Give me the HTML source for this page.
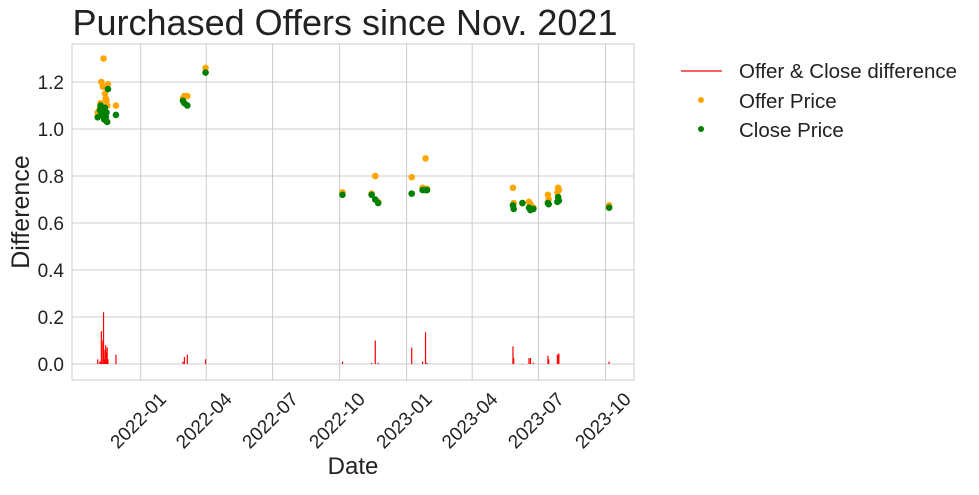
<!DOCTYPE html>
<html><head><meta charset="utf-8"><style>
body{margin:0;background:#fff;}
svg{font-family:"Liberation Sans","DejaVu Sans",sans-serif;}
</style></head><body>
<svg id="c" width="979" height="490">
<rect x="0" y="0" width="979" height="490" fill="#fff"/>
<g id="grid"></g>
<g id="bars"></g>
<g id="pts"></g>
<rect x="72" y="44" width="562" height="336" fill="none" stroke="#cccccc" stroke-width="1"/>
<g id="ticks"></g>
<text x="345" y="35" text-anchor="middle" font-size="36" fill="#222">Purchased Offers since Nov. 2021</text>
<text x="353" y="474" text-anchor="middle" font-size="24" fill="#222">Date</text>
<text transform="translate(29,212) rotate(-90)" text-anchor="middle" font-size="25" fill="#222">Difference</text>
<g>
<g><line x1="681" y1="71" x2="722" y2="71" stroke="red" stroke-width="1.2"/><text x="739" y="78" font-size="20.5" fill="#222">Offer &amp; Close difference</text></g>
<g><circle cx="701" cy="100" r="3" fill="orange"/><text x="739" y="108" font-size="20.5" fill="#222">Offer Price</text></g>
<g><circle cx="701" cy="129" r="3" fill="green"/><text x="739" y="137" font-size="20.5" fill="#222">Close Price</text></g>
</g>
</svg>
<script>
const dates=["2021-11-03","2021-11-06","2021-11-07","2021-11-08","2021-11-10","2021-11-11","2021-11-12","2021-11-13","2021-11-14","2021-11-15","2021-11-16","2021-11-17","2021-11-28","2022-02-28","2022-03-02","2022-03-06","2022-03-31","2022-10-05","2022-11-14","2022-11-19","2022-11-23","2023-01-08","2023-01-23","2023-01-27","2023-01-29","2023-05-27","2023-05-28","2023-06-09","2023-06-18","2023-06-20","2023-06-24","2023-07-14","2023-07-15","2023-07-27","2023-07-28","2023-07-29","2023-10-06"];
const offer=[1.07,1.09,1.11,1.20,1.18,1.30,1.06,1.15,1.13,1.12,1.10,1.19,1.10,1.13,1.14,1.14,1.26,0.73,0.725,0.80,0.69,0.795,0.75,0.875,0.745,0.75,0.685,0.685,0.69,0.68,0.665,0.72,0.70,0.73,0.75,0.74,0.675];
const close=[1.05,1.08,1.10,1.06,1.08,1.08,1.04,1.09,1.05,1.07,1.03,1.17,1.06,1.12,1.11,1.10,1.24,0.72,0.72,0.70,0.685,0.725,0.74,0.74,0.74,0.675,0.66,0.685,0.665,0.655,0.66,0.685,0.68,0.69,0.71,0.695,0.665];
const yTicks=[0.0,0.2,0.4,0.6,0.8,1.0,1.2];
const xTicks=["2022-01","2022-04","2022-07","2022-10","2023-01","2023-04","2023-07","2023-10"];
const NS="http://www.w3.org/2000/svg";
const base=Date.UTC(2022,0,1);
function xs(d){const p=d.split("-");const t=Date.UTC(+p[0],+p[1]-1,p[2]?+p[2]:1);return 140.7+(t-base)/86400000*0.7285;}
function ys(v){return 364-v*235;}
function mk(tag,attrs,parent){const e=document.createElementNS(NS,tag);for(const k in attrs)e.setAttribute(k,attrs[k]);document.getElementById(parent).appendChild(e);return e;}
yTicks.forEach(v=>{
 const g=mk("line",{x1:72,x2:634,y1:ys(v),y2:ys(v),stroke:"#cccccc","stroke-width":1},"grid");
 
 
 const t=mk("text",{x:64,y:ys(v)+7,"text-anchor":"end","font-size":19,fill:"#222"},"ticks");
 t.textContent=v.toFixed(1);
 
 
});
xTicks.forEach(d=>{
 const x=xs(d);
 const g=mk("line",{x1:x,x2:x,y1:44,y2:380,stroke:"#cccccc","stroke-width":1},"grid");
 
 
 const t=mk("text",{transform:"translate("+(x+2)+",425) rotate(-45)","text-anchor":"middle","font-size":19,fill:"#222"},"ticks");
 t.textContent=d;
 
 
});
dates.forEach((d,i)=>{
 const x=xs(d);const diff=offer[i]-close[i];
 const b=mk("rect",{x:x-0.6,y:ys(diff),width:1.2,height:Math.max(0.5,ys(0)-ys(diff)),fill:"red"},"bars");
 
 
});
dates.forEach((d,i)=>{
 const o=mk("circle",{cx:xs(d),cy:ys(offer[i]),r:3.3,fill:"orange"},"pts");
 
 
});
dates.forEach((d,i)=>{
 const c=mk("circle",{cx:xs(d),cy:ys(close[i]),r:3.3,fill:"green"},"pts");
 
 
});
</script>
</body></html>
